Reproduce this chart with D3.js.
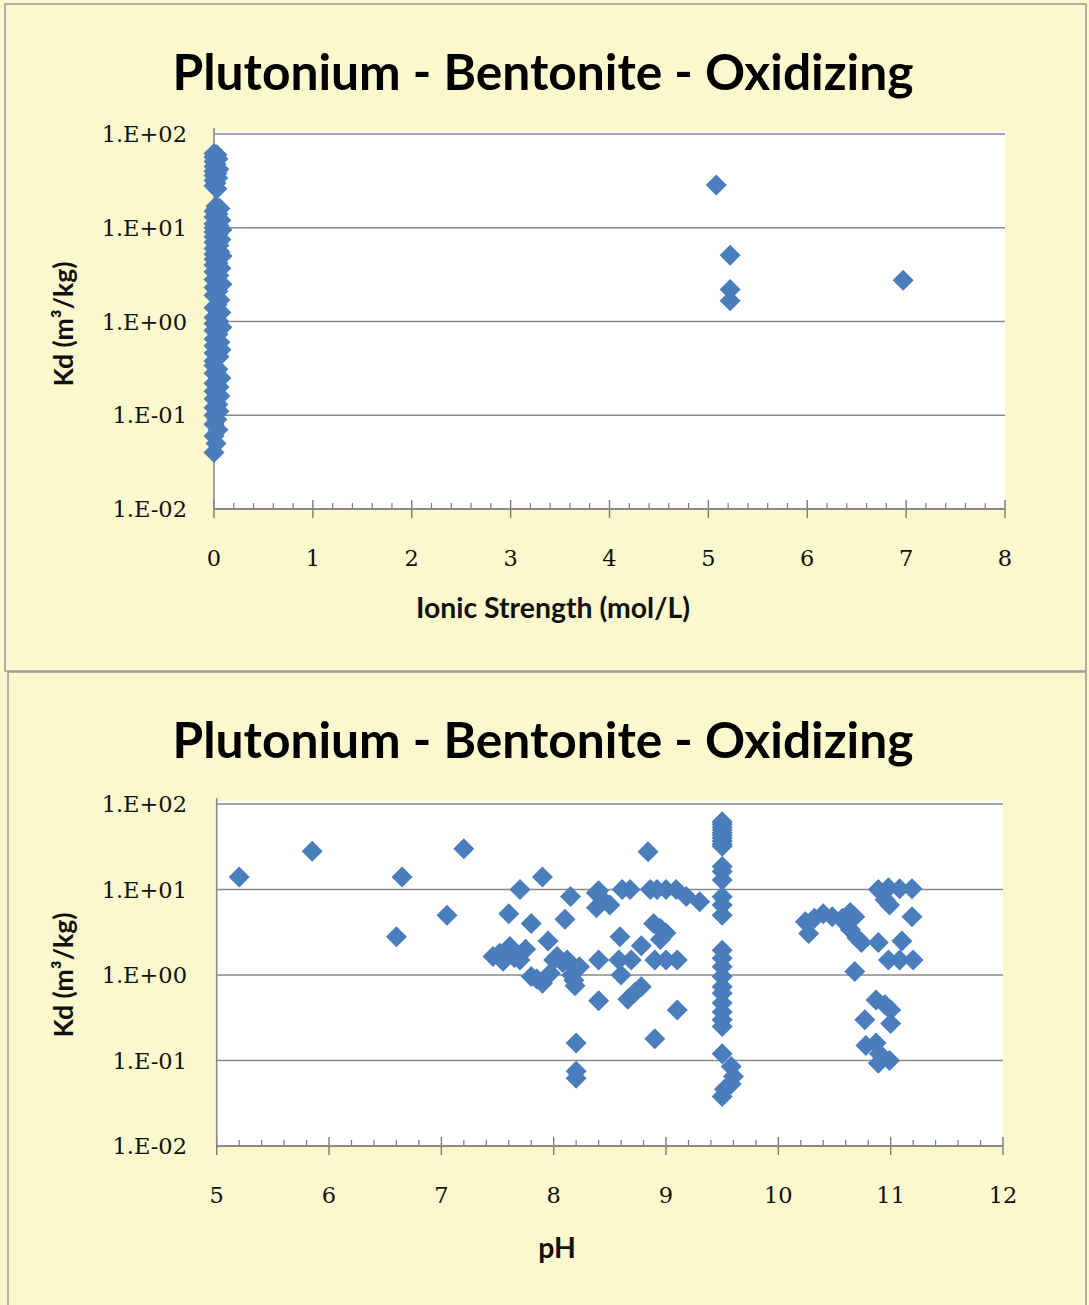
<!DOCTYPE html>
<html>
<head>
<meta charset="utf-8">
<script src="https://cdn.jsdelivr.net/npm/d3@7"></script>
<style>
  html, body { margin: 0; padding: 0; background: #faf8cc; }
  svg { display: block; }
</style>
</head>
<body>
<svg id="chart" width="1089" height="1305"></svg>
<script>
// ---- data ----------------------------------------------------------------
const chartTitle = "Plutonium - Bentonite - Oxidizing";
const yTickValues = [0.01, 0.1, 1, 10, 100];
const yTickLabels = ["1.E-02", "1.E-01", "1.E+00", "1.E+01", "1.E+02"];
const ionicTicks = [0, 1, 2, 3, 4, 5, 6, 7, 8];
const phTicks = [5, 6, 7, 8, 9, 10, 11, 12];

// Kd vs ionic strength (mol/L)
const ionicStrength = [
  0, 0.03, 0, 0.04, 0, 0.02, 0, 0.05, 0, 0.03, 0, 0.04, 0, 0.02, 0, 0.03,
  0.02, 0.06, 0, 0.04, 0, 0.07, 0, 0.05, 0, 0.08, 0, 0.04, 0, 0.07, 0, 0.05,
  0, 0.06, 0, 0.08, 0, 0.04, 0, 0.07, 0, 0.05, 0, 0.08, 0, 0.04, 0, 0.06,
  0.03, 0, 0.07, 0, 0.05, 0, 0.08, 0, 0.04, 0, 0.06, 0, 0.07, 0, 0.05, 0,
  0, 0.04, 0, 0.07, 0, 0.05, 0, 0.06, 0, 0.04, 0, 0.05, 0, 0.03, 0, 0.04, 0, 0.02, 0,
  5.08, 5.22, 5.22, 5.22, 6.97
];
const kdIonic = [
  62, 60, 57, 54, 51, 48, 45, 42, 40, 38, 36, 34, 32, 30, 28, 26,
  17, 16, 15, 14, 13, 12, 11, 10.5, 10, 9.5, 9, 8.5, 8, 7.5, 7, 6.5,
  6, 5.5, 5.2, 5, 4.6, 4.2, 4, 3.7, 3.4, 3.1, 2.8, 2.5, 2.3, 2.1, 1.9, 1.7,
  1.5, 1.4, 1.25, 1.1, 1.0, 0.95, 0.87, 0.8, 0.73, 0.65, 0.6, 0.55, 0.5, 0.46, 0.42, 0.38,
  0.34, 0.31, 0.28, 0.25, 0.22, 0.2, 0.18, 0.16, 0.15, 0.13, 0.12, 0.11, 0.1, 0.09, 0.08, 0.07, 0.06, 0.05, 0.04,
  28.6, 5.1, 2.2, 1.66, 2.76
];

// Kd vs pH
const phValues = [
  5.2, 5.85, 6.6, 6.65, 7.05, 7.2, 7.46, 7.52, 7.55, 7.6, 7.61, 7.65, 7.7, 7.7,
  7.75, 7.8, 7.8, 7.85, 7.9, 7.9, 7.95, 7.97, 8.0, 8.03, 8.08, 8.1, 8.12, 8.15,
  8.16, 8.18, 8.19, 8.2, 8.2, 8.2, 8.23, 8.38, 8.38, 8.4, 8.44, 8.5, 8.4, 8.4,
  8.59, 8.58, 8.6, 8.61, 8.66, 8.68, 8.69, 8.72, 8.78, 8.78, 8.84, 8.86, 8.89,
  8.9, 8.9, 8.92, 8.95, 8.95, 9.0, 9.0, 9.0, 9.09, 9.1, 9.1, 9.18, 9.3,
  9.5, 9.5, 9.5, 9.5, 9.5, 9.5, 9.5, 9.5, 9.5, 9.5, 9.5, 9.5, 9.5, 9.5, 9.5, 9.5,
  9.5, 9.5, 9.5, 9.5, 9.5, 9.5, 9.5, 9.5, 9.5, 9.5, 9.5,
  9.58, 9.6, 9.58, 9.52, 9.5,
  10.24, 10.27, 10.32, 10.4, 10.48, 10.57, 10.6, 10.64, 10.68, 10.64, 10.7, 10.74,
  10.68, 10.89, 10.98, 11.08, 11.19, 10.95, 10.99, 11.19, 10.89, 11.1, 10.98,
  11.08, 11.2, 10.87, 10.95, 11.0, 11.0, 10.77, 10.78, 10.87, 10.9, 10.99, 10.89
];
const kdPh = [
  14, 28, 2.8, 14, 5.0, 30, 1.65, 1.8, 1.45, 5.2, 2.15, 1.6, 10, 1.5,
  2.0, 4.0, 0.96, 0.9, 14, 0.8, 2.5, 1.05, 1.5, 1.65, 1.4, 4.5, 1.5, 8.3,
  1.0, 0.87, 0.75, 0.16, 0.075, 0.062, 1.25, 9.1, 6.1, 9.7, 7.5, 6.6, 1.5, 0.5,
  2.8, 1.5, 1.0, 10, 0.52, 10, 1.5, 0.62, 2.2, 0.73, 27.6, 10, 4.0,
  1.5, 0.18, 10, 3.5, 2.6, 10, 3.1, 1.5, 10, 1.5, 0.39, 8.3, 7.2,
  62, 58, 54, 50, 46, 43, 40, 37, 34, 32, 18.6, 16.2, 12.9, 8.2, 6.6, 5.0,
  1.95, 1.57, 1.25, 0.96, 0.73, 0.61, 0.47, 0.37, 0.30, 0.25, 0.12,
  0.085, 0.065, 0.053, 0.046, 0.038,
  4.2, 3.05, 4.6, 5.2, 4.8, 4.6, 4.0, 5.4, 4.8, 3.4, 2.7, 2.4,
  1.1, 10, 10.5, 10.2, 10.2, 7.6, 6.6, 4.8, 2.4, 2.5, 1.5,
  1.5, 1.5, 0.51, 0.45, 0.39, 0.27, 0.30, 0.15, 0.16, 0.12, 0.10, 0.093
];

// ---- drawing ------------------------------------------------------------
const BG = "#faf8cc";
const MARK = "#4a7dbb";
const GRID = "#8a8a8a";
const svg = d3.select("#chart");

// scale a text element's font so its rendered length matches a target width
function fitWidth(sel, target) {
  const node = sel.node();
  const base = parseFloat(sel.attr("font-size"));
  const len = node.getComputedTextLength();
  if (len > 0) sel.attr("font-size", (base * target / len).toFixed(2));
  return sel;
}

function drawPanel(cfg) {
  const g = svg.append("g");

  // panel background and frame
  g.append("rect")
    .attr("x", cfg.frame[0]).attr("y", cfg.frame[1])
    .attr("width", cfg.frame[2]).attr("height", cfg.frame[3])
    .attr("fill", BG).attr("stroke", "#9a9a94").attr("stroke-width", 1.5);

  const x = d3.scaleLinear().domain(cfg.xDomain).range([cfg.left, cfg.right]);
  const y = d3.scaleLog().domain([0.01, 100]).range([cfg.bottom, cfg.top]);

  // plot area
  g.append("rect")
    .attr("x", cfg.left).attr("y", cfg.top - 3)
    .attr("width", cfg.right - cfg.left).attr("height", cfg.bottom - cfg.top + 3)
    .attr("fill", "#ffffff");

  // horizontal gridlines at each decade
  g.append("g").selectAll("line")
    .data(yTickValues.filter(v => v > 0.01))
    .join("line")
    .attr("x1", cfg.left).attr("x2", cfg.right)
    .attr("y1", d => y(d)).attr("y2", d => y(d))
    .attr("stroke", GRID).attr("stroke-width", 1.6);

  // x axis: major ticks crossing the line, minor ticks pointing into the plot
  const minorStep = 0.2;
  const minors = d3.range(cfg.xDomain[0], cfg.xDomain[1] + 1e-9, minorStep)
    .filter(v => Math.abs(v - Math.round(v)) > 1e-6);
  const axisG = g.append("g");
  axisG.selectAll("line.minor").data(minors).join("line")
    .attr("class", "minor")
    .attr("x1", d => x(d)).attr("x2", d => x(d))
    .attr("y1", cfg.bottom - 6).attr("y2", cfg.bottom)
    .attr("stroke", "#7a7a7a").attr("stroke-width", 1.2);
  axisG.selectAll("line.major").data(cfg.xTicks).join("line")
    .attr("class", "major")
    .attr("x1", d => x(d)).attr("x2", d => x(d))
    .attr("y1", cfg.bottom - 9).attr("y2", cfg.bottom + 9)
    .attr("stroke", "#7a7a7a").attr("stroke-width", 1.4);
  axisG.append("line")
    .attr("x1", cfg.left).attr("x2", cfg.right)
    .attr("y1", cfg.bottom).attr("y2", cfg.bottom)
    .attr("stroke", GRID).attr("stroke-width", 1.8);

  // y axis line
  g.append("line")
    .attr("x1", cfg.left).attr("x2", cfg.left)
    .attr("y1", cfg.top - 6).attr("y2", cfg.bottom)
    .attr("stroke", GRID).attr("stroke-width", 1.6);

  // tick labels
  const tickFont = "'DejaVu Serif', 'Liberation Serif', serif";
  const tickSize = 22.5;
  g.append("g").selectAll("text").data(yTickValues).join("text")
    .attr("x", 187).attr("y", d => y(d))
    .attr("dy", "0.36em")
    .attr("text-anchor", "end")
    .attr("font-family", tickFont).attr("font-size", tickSize)
    .attr("fill", "#111")
    .text((d, i) => yTickLabels[i]);
  g.append("g").selectAll("text").data(cfg.xTicks).join("text")
    .attr("x", d => x(d)).attr("y", cfg.bottom + 49)
    .attr("dy", "0.36em")
    .attr("text-anchor", "middle")
    .attr("font-family", tickFont).attr("font-size", tickSize)
    .attr("fill", "#111")
    .text(d => d);

  // data points as diamonds
  const r = 10.5;
  const diamond = `M0,${-r}L${r},0L0,${r}L${-r},0Z`;
  g.append("g").selectAll("path").data(cfg.xs.map((v, i) => [v, cfg.ys[i]]))
    .join("path")
    .attr("transform", d => `translate(${x(d[0])},${y(d[1])})`)
    .attr("d", diamond)
    .attr("fill", MARK);

  // titles
  const sans = "Lato, 'Open Sans', 'Liberation Sans', sans-serif";
  const t = g.append("text")
    .attr("x", 543).attr("y", cfg.titleY)
    .attr("text-anchor", "middle")
    .attr("font-family", sans).attr("font-weight", 700)
    .attr("font-size", 40).attr("fill", "#000")
    .text(chartTitle);
  fitWidth(t, 741);

  const xt = g.append("text")
    .attr("x", cfg.xTitleX).attr("y", cfg.xTitleY)
    .attr("text-anchor", "middle")
    .attr("font-family", sans).attr("font-weight", 700)
    .attr("font-size", 21).attr("fill", "#111")
    .text(cfg.xTitle);

  const yt = g.append("text")
    .attr("transform", `translate(73,${cfg.yTitleY}) rotate(-90)`)
    .attr("text-anchor", "middle")
    .attr("font-family", sans).attr("font-weight", 700)
    .attr("font-size", 20).attr("fill", "#111")
    .text("Kd (m\u00b3/kg)");
  fitWidth(yt, 125);
  return { xt };
}

const p1 = drawPanel({
  frame: [5, 4, 1081, 667],
  left: 214, right: 1005, top: 134, bottom: 509,
  xDomain: [0, 8], xTicks: ionicTicks,
  xs: ionicStrength, ys: kdIonic,
  titleY: 90,
  xTitle: "Ionic Strength (mol/L)", xTitleX: 553, xTitleY: 618,
  yTitleY: 324
});
fitWidth(p1.xt, 274);

const p2 = drawPanel({
  frame: [8, 672, 1078, 640],
  left: 216.7, right: 1003, top: 804, bottom: 1146,
  xDomain: [5, 12], xTicks: phTicks,
  xs: phValues, ys: kdPh,
  titleY: 758,
  xTitle: "pH", xTitleX: 557, xTitleY: 1258,
  yTitleY: 975
});
p2.xt.attr("font-size", p1.xt.attr("font-size"));
</script>
</body>
</html>
